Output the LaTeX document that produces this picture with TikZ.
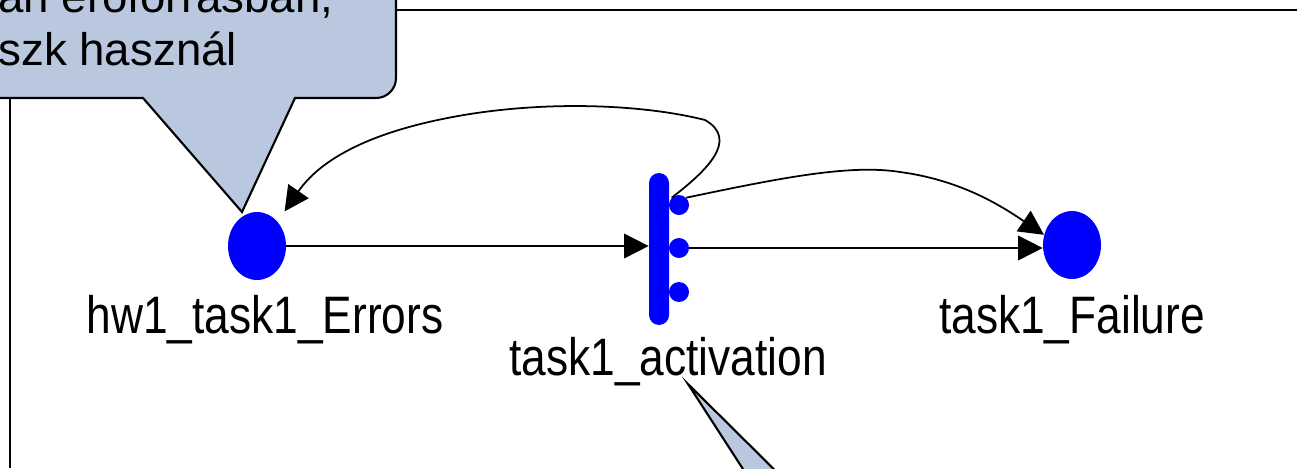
\documentclass[tikz,border=0pt]{standalone}
\usepackage{fontspec}
\setmainfont{Liberation Sans}
\newfontfamily\netfont[FakeStretch=0.84]{Liberation Sans}
\usetikzlibrary{arrows.meta,shapes.geometric}
\definecolor{callfill}{HTML}{B9C8DE}
\definecolor{netblue}{HTML}{0000FF}
\begin{document}
\begin{tikzpicture}[x=0.02cm,y=-0.02cm,
    place/.style={ellipse,fill=netblue,inner sep=0pt,minimum width=1.16cm,minimum height=1.36cm},
    trans/.style={rectangle,rounded corners=0.2cm,fill=netblue,inner sep=0pt,minimum width=0.4cm,minimum height=3.04cm},
    port/.style={circle,fill=netblue,inner sep=0pt,minimum size=0.4cm},
    lbl/.style={anchor=base,inner sep=0pt,font=\netfont\fontsize{30}{36}\selectfont},
    calltext/.style={anchor=base west,inner sep=0pt,font=\fontsize{26}{30}\selectfont},
    arc/.style={line width=1pt,-{Triangle[length=14pt,width=14pt]}},
    bubble/.style={fill=callfill,draw=black,line width=1.2pt}]
    \useasboundingbox (0,0) rectangle (1297,468);
    \clip (0,0) rectangle (1297,468);

    % window frame
    \draw[line width=1.2pt] (10,468) -- (10,10) -- (1297,10);

    % net
    \node[place] (hw1) at (257,246) {};
    \node[trans] (act) at (659,249) {};
    \node[port] (d1) at (679,205) {};
    \node[port] (d2) at (679,248) {};
    \node[port] (d3) at (679,292) {};
    \node[place] (fail) at (1072,245) {};

    \node[lbl] (hw1lbl) at (265,333) {hw1\_task1\_Errors};
    \node[lbl] (actlbl) at (668,375) {task1\_activation};
    \node[lbl] (faillbl) at (1072,333) {task1\_Failure};

    \draw[arc] (hw1.east) -- (hw1.east -| act.west);
    \draw[arc] (d2.east) -- (d2.east -| fail.west);
    \draw[arc,shorten >=7pt] (d1.north west) .. controls (705,172) and (740,140) .. (705,120)
        .. controls (650,106) and (560,100) .. (470,114)
        .. controls (370,130) and (320,160) .. (hw1.50);
    \draw[arc] (d1.north east) .. controls (780,178) and (850,164) .. (900,172)
        .. controls (960,180) and (1000,205) .. (fail.160);

    % callouts
    \path[bubble] (-40,98) -- (143,98) -- (242,212) -- (295,98) -- (340,98)
        [rounded corners=0.4cm] -- (396,98) -- (396,-40) [sharp corners] -- (-40,-40) -- cycle;
    \node[calltext] (calltop) at (-2,12) {an erőforrásban,};
    \node[calltext] (callbot) at (-2,65) {szk használ};
    \path[bubble] (688,384) -- (763,500) -- (805,500) -- cycle;
\end{tikzpicture}
\end{document}
